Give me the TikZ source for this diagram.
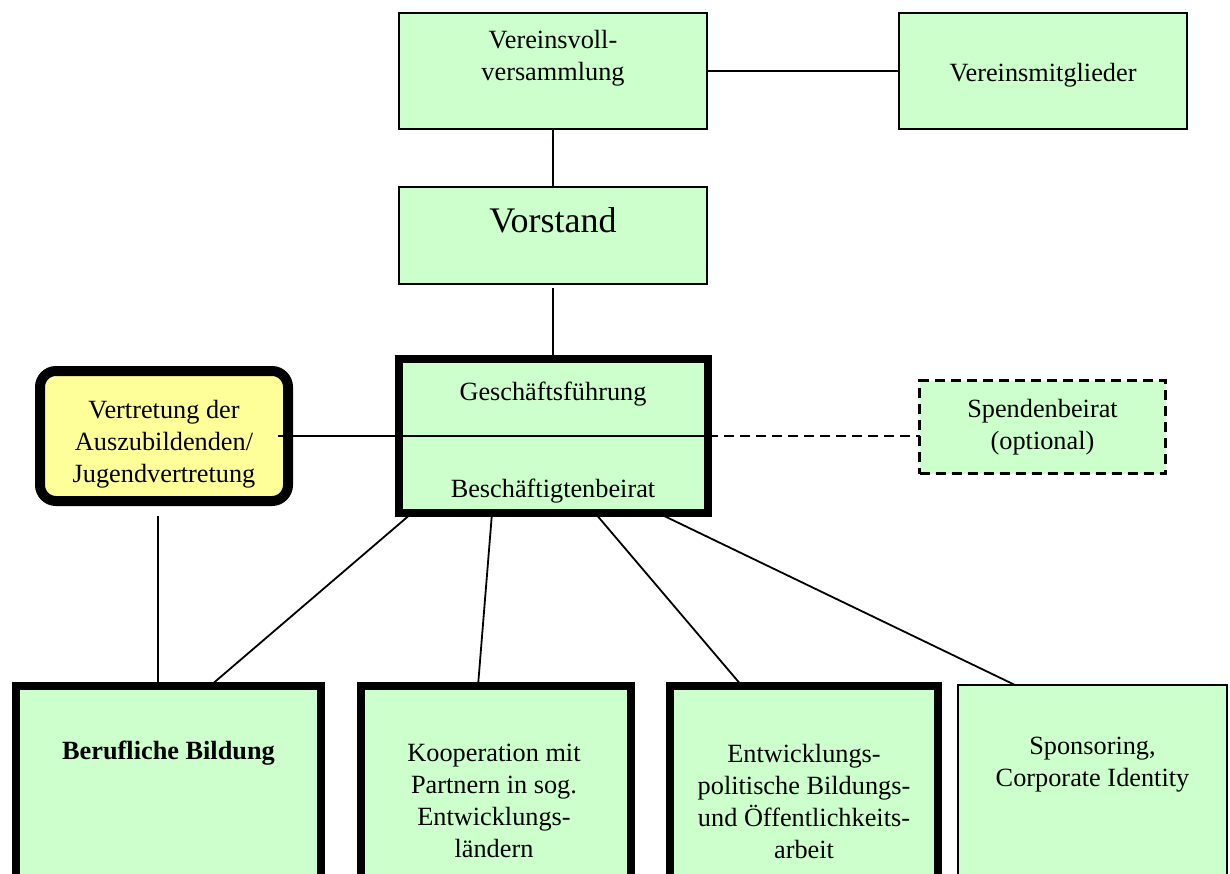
\documentclass[tikz,border=0pt]{standalone}
\usepackage{fontspec}
\setmainfont{Liberation Serif}
\definecolor{boxgreen}{HTML}{CCFFCC}
\definecolor{boxyellow}{HTML}{FFFF99}
\begin{document}
\begin{tikzpicture}[x=1pt,y=-1pt,
  box/.style={draw=black, fill=boxgreen, line width=2pt, rectangle, inner sep=0pt, outer sep=0pt},
  thickbox/.style={box, line width=8pt},
  txt/.style={align=center, font=\fontsize{26.3}{32}\selectfont, inner sep=0pt},
  conn/.style={line width=1.8pt},
  dashconn/.style={line width=2pt, dash pattern=on 10pt off 6pt}
]
\path[use as bounding box, clip] (0,0) rectangle (1230,874);

% boxes
\node[box, minimum width=308pt, minimum height=116pt] (vv) at (553,71) {};
\node[box, minimum width=288pt, minimum height=116pt] (vm) at (1043,71) {};
\node[box, minimum width=308pt, minimum height=97pt] (vs) at (553,235.5) {};
\node[thickbox, minimum width=309pt, minimum height=154pt] (gf) at (553,436) {};
\node[draw=black, fill=boxyellow, line width=10pt, rounded corners=16pt, inner sep=0pt, outer sep=0pt,
      minimum width=248pt, minimum height=130pt] (vt) at (164,436) {};
\node[box, line width=3pt, dash pattern=on 10pt off 6pt, minimum width=246pt, minimum height=93pt] (sb) at (1042.5,427) {};
\node[thickbox, minimum width=305pt, minimum height=234pt] (bb) at (168.5,803) {};
\node[thickbox, minimum width=270pt, minimum height=234pt] (ko) at (496,803) {};
\node[thickbox, minimum width=268pt, minimum height=234pt] (ew) at (804,803) {};
\node[box, minimum width=269pt, minimum height=235pt] (sp) at (1092.5,802.5) {};

% texts
\node[txt] (tvv) at (553,58.5) {Vereinsvoll-\\versammlung};
\node[txt] (tvm) at (1043,75) {Vereinsmitglieder};
\node[txt, font=\fontsize{36}{40}\selectfont] (tvs) at (553,220) {Vorstand};
\node[txt] (tgf1) at (553,394) {Geschäftsführung};
\node[txt] (tgf2) at (553,491) {Beschäftigtenbeirat};
\node[txt] (tvt) at (164,444) {Vertretung der\\Auszubildenden/\\Jugendvertretung};
\node[txt] (tsb) at (1042.5,427) {Spendenbeirat\\(optional)};
\node[txt, font=\fontsize{26.3}{32}\selectfont\bfseries] (tbb) at (168.5,753) {Berufliche Bildung};
\node[txt] (tko) at (494,801) {Kooperation mit\\Partnern in sog.\\Entwicklungs-\\ländern};
\node[txt] (tew) at (804,801) {Entwicklungs-\\politische Bildungs-\\und Öffentlichkeits-\\arbeit};
\node[txt] (tsp) at (1092.5,765) {Sponsoring,\\Corporate Identity};

% connectors
\coordinate (vtend) at ([xshift=114pt]vt.center);
\draw[conn] (vv.south) -- (vs.north);
\draw[conn] (vv.east) -- (vm.west);
\draw[conn, shorten <=4pt] (vs.south) -- (gf.north);
\draw[conn] (vtend) -- (gf.east);
\draw[dashconn] (gf.east) -- (gf.east -| sb.west);
\draw[conn, shorten <=15pt] ([xshift=-6pt]vt.south) -- ([xshift=-10.5pt]bb.north);
\draw[conn] ([xshift=-141pt]gf.south) -- ([xshift=41.5pt]bb.north);
\draw[conn] ([xshift=-61pt]gf.south) -- ([xshift=-18pt]ko.north);
\draw[conn] ([xshift=42pt]gf.south) -- ([xshift=-62pt]ew.north);
\draw[conn] ([xshift=105pt]gf.south) -- ([xshift=-77.5pt]sp.north);
\end{tikzpicture}
\end{document}
